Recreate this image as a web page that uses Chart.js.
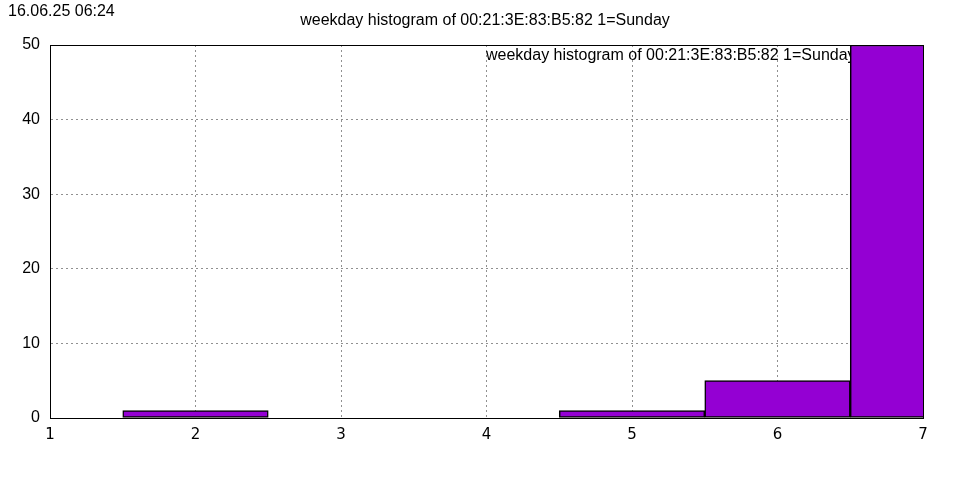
<!DOCTYPE html>
<html>
<head>
<meta charset="utf-8">
<script src="https://cdn.jsdelivr.net/npm/chart.js@4"></script>
<style>
  html, body { margin: 0; padding: 0; background: #fff; }
  #wrap { width: 960px; height: 480px; }
</style>
</head>
<body>
<div id="wrap"><canvas id="grafico"></canvas></div>
<script>
// Datos del histograma
const dias = [2, 5, 6, 7];
const cuentas = [1, 1, 5, 50];
const titulo = 'weekday histogram of 00:21:3E:83:B5:82 1=Sunday';
const fecha = '16.06.25 06:24';
const xTicks = [1, 2, 3, 4, 5, 6, 7];
const yTicks = [0, 10, 20, 30, 40, 50];

const fuente = '16px "Liberation Sans", Arial, sans-serif';

// Textos y marco estilo gnuplot
const textos = {
    id: 'textos',
    beforeDatasetsDraw(chart) {
        // texto de la leyenda, queda tapado por la barra del 7
        const ctx = chart.ctx;
        ctx.save();
        ctx.fillStyle = '#000';
        ctx.font = fuente;
        ctx.textBaseline = 'middle';
        ctx.textAlign = 'left';
        ctx.fillText(titulo, 486, 56);
        ctx.restore();
    },
    afterDraw(chart) {
        const ctx = chart.ctx;
        const a = chart.chartArea;
        ctx.save();
        ctx.strokeStyle = '#000';
        ctx.lineWidth = 1;
        ctx.setLineDash([]);
        ctx.strokeRect(Math.round(a.left) + 0.5, Math.round(a.top) + 0.5,
            Math.round(a.right - a.left), Math.round(a.bottom - a.top));
        ctx.fillStyle = '#000';
        ctx.font = fuente;
        ctx.textBaseline = 'middle';
        ctx.textAlign = 'left';
        ctx.fillText(fecha, 8, 12);
        ctx.textAlign = 'center';
        ctx.fillText(titulo, 485, 21);
        ctx.restore();
    }
};

new Chart(document.getElementById('grafico'), {
    type: 'bar',
    data: {
        datasets: [{
            data: dias.map((d, i) => ({ x: d, y: cuentas[i] })),
            backgroundColor: '#9400D3',
            borderColor: '#000',
            borderWidth: 1.5,
            borderSkipped: false,
            barPercentage: 1,
            categoryPercentage: 1,
            clip: 0
        }]
    },
    options: {
        responsive: true,
        maintainAspectRatio: false,
        animation: false,
        layout: { padding: { left: 0, top: 45, right: 37, bottom: 0 } },
        plugins: {
            legend: { display: false },
            title: { display: false },
            tooltip: { enabled: false }
        },
        scales: {
            x: {
                type: 'linear',
                min: 1,
                max: 7,
                offset: false,
                afterBuildTicks: s => { s.ticks = xTicks.map(v => ({ value: v })); },
                afterFit: s => { s.height = 62; },
                border: { display: true, color: '#000', dash: [2, 3] },
                grid: { color: '#909090', drawTicks: false, offset: false },
                ticks: {
                    padding: 8,
                    color: '#000',
                    font: { family: '"DejaVu Sans", sans-serif', size: 15 },
                    maxRotation: 0
                }
            },
            y: {
                min: 0,
                max: 50,
                afterBuildTicks: s => { s.ticks = yTicks.map(v => ({ value: v })); },
                afterFit: s => { s.width = 50; },
                border: { display: true, color: '#000', dash: [2, 3] },
                grid: { color: '#909090', drawTicks: false },
                ticks: {
                    padding: 10,
                    color: '#000',
                    font: { family: '"Liberation Sans", Arial, sans-serif', size: 16 }
                }
            }
        }
    },
    plugins: [textos]
});
</script>
</body>
</html>
